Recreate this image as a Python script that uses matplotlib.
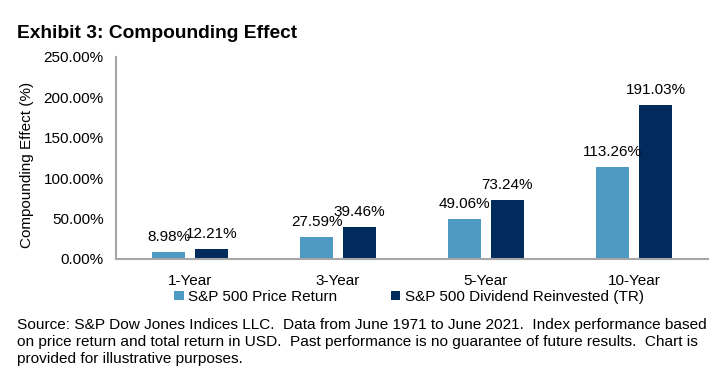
import matplotlib
matplotlib.use("Agg")
import matplotlib.pyplot as plt
import numpy as np

plt.rcParams['font.family'] = ['Liberation Sans', 'DejaVu Sans']

# --- data ---
categories = ["1-Year", "3-Year", "5-Year", "10-Year"]
price_return = [8.98, 27.59, 49.06, 113.26]
total_return = [12.21, 39.46, 73.24, 191.03]
series_names = ["S&P 500 Price Return", "S&P 500 Dividend Reinvested (TR)"]
y_ticks = [0, 50, 100, 150, 200, 250]

title = "Exhibit 3: Compounding Effect"
y_label = "Compounding Effect (%)"
source_lines = [
    "Source: S&P Dow Jones Indices LLC.  Data from June 1971 to June 2021.  Index performance based",
    "on price return and total return in USD.  Past performance is no guarantee of future results.  Chart is",
    "provided for illustrative purposes.",
]

# --- style ---
c_light = "#4E9AC3"
c_dark = "#002B5C"
c_axis = "#A6A6A6"
bar_w = 0.225
offset = 0.145

fig = plt.figure(figsize=(7.2, 3.75), dpi=100)
ax = fig.add_axes([116 / 720, 1 - 259 / 375, 592 / 720, 202 / 375])

x = np.arange(len(categories))
b1 = ax.bar(x - offset, price_return, bar_w, color=c_light, label=series_names[0])
b2 = ax.bar(x + offset, total_return, bar_w, color=c_dark, label=series_names[1])

for bars, vals in ((b1, price_return), (b2, total_return)):
    for rect, v in zip(bars, vals):
        ax.annotate(f"{v:.2f}%", (rect.get_x() + rect.get_width() / 2, v),
                    xytext=(0, 8), textcoords="offset points",
                    ha="center", va="baseline", fontsize=11)

ax.set_xlim(-0.5, len(categories) - 0.5)
ax.set_ylim(0, 250)
ax.set_yticks(y_ticks)
ax.set_yticklabels([f"{t:.2f}%" for t in y_ticks], fontsize=11)
ax.set_xticks(x)
ax.set_xticklabels(categories, fontsize=11)
ax.tick_params(axis="both", length=0)
ax.tick_params(axis="y", pad=9)
ax.tick_params(axis="x", pad=11)

for s in ("top", "right"):
    ax.spines[s].set_visible(False)
for s in ("left", "bottom"):
    ax.spines[s].set_color(c_axis)
    ax.spines[s].set_linewidth(1.5)

fig.text(27 / 720, 1 - 165 / 375, y_label, rotation=90, ha="center", va="center", fontsize=11)
fig.text(17 / 720, 1 - 34 / 375, title, ha="left", va="center", fontsize=13.8, fontweight="bold")

fig.legend(handles=[b1, b2], loc="center", bbox_to_anchor=(409 / 720, 1 - 297 / 375),
           ncol=2, frameon=False, fontsize=11, handlelength=0.6, handleheight=0.6,
           handletextpad=0.3, columnspacing=3.5, borderpad=0)

for i, line in enumerate(source_lines):
    fig.text(17 / 720, 1 - (325 + 17 * i) / 375, line, ha="left", va="center", fontsize=11.1)

fig.savefig("out.png", dpi=100)
